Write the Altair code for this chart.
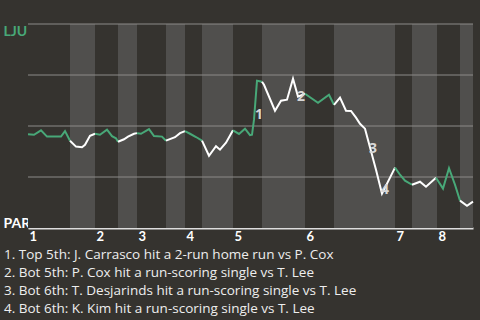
import altair as alt
import pandas as pd

# ---- data ----
teams = ["LJU", "PAR"]  # top = LJU, bottom = PAR
innings = [1, 2, 3, 4, 5, 6, 7, 8]
# game progress at each half-inning boundary (top1, bot1, top2, ...)
half_bounds = [0, 42, 67, 90, 109, 138, 157, 174, 205, 234, 277, 306, 367, 384, 409, 432, 445]

# win probability for LJU (%) per half-inning
seg_x = [
    [0, 6, 13, 19, 33, 37, 42],
    [48, 54, 57, 62, 67],
    [72, 79, 84, 88, 90],
    [96, 100, 106, 109],
    [113, 121, 126, 134, 138],
    [147, 152, 157],
    [162, 168, 174],
    [181, 188, 192, 198, 205],
    [211, 217, 222, 224, 226, 229, 234],
    [236, 247, 253, 259, 265, 270, 277],
    [290, 301, 306],
    [312, 318, 323, 328, 332, 337, 348, 354, 367],
    [372, 377, 384],
    [392, 398, 408],
    [415, 421, 427, 432],
    [439, 445],
]
seg_p = [
    [46.0, 45.7, 47.9, 44.8, 44.8, 47.5, 42.8],
    [39.9, 39.6, 40.8, 45.2, 46.2],
    [45.7, 48.2, 45.0, 44.0, 42.3],
    [43.5, 44.8, 46.2, 46.5],
    [46.2, 48.5, 45.1, 44.8, 42.8],
    [44.5, 46.5, 47.5],
    [46.2, 44.6, 42.8],
    [35.4, 40.1, 38.4, 41.8, 47.9],
    [46.1, 48.7, 45.5, 45.7, 53.1, 72.2, 71.7],
    [70.2, 57.5, 62.4, 62.9, 73.2, 64.4, 65.8],
    [61.4, 65.3, 60.4],
    [63.9, 57.5, 57.4, 54.1, 51.1, 48.7, 28.6, 16.8, 29.6],
    [26.1, 23.2, 21.2],
    [22.7, 20.2, 24.6],
    [19.3, 29.3, 21.2, 13.4],
    [10.9, 12.9],
]

event_labels = ["1", "2", "3", "4"]
event_x = [231, 273, 345, 357]
event_p = [55.5, 64.3, 38.9, 18.8]

notes = [
    "1. Top 5th: J. Carrasco hit a 2-run home run vs P. Cox",
    "2. Bot 5th: P. Cox hit a run-scoring single vs T. Lee",
    "3. Bot 6th: T. Desjarinds hit a run-scoring single vs T. Lee",
    "4. Bot 6th: K. Kim hit a run-scoring single vs T. Lee",
]
grid_vals = [25, 50, 75, 100]

# ---- build tables ----
rows = []
prev = None
for i, (xs, ps) in enumerate(zip(seg_x, seg_p)):
    half = "top" if i % 2 == 0 else "bot"
    pts = list(zip(xs, ps))
    if prev is not None:
        pts = [prev] + pts
    for j, (x, p) in enumerate(pts):
        rows.append({"x": x, "p": p, "seg": i, "order": j, "half": half})
    prev = pts[-1]
line_df = pd.DataFrame(rows)

bands_df = pd.DataFrame({
    "start": half_bounds[:-1],
    "end": half_bounds[1:],
    "half": ["top" if i % 2 == 0 else "bot" for i in range(len(half_bounds) - 1)],
})
ev_df = pd.DataFrame({"label": event_labels, "x": event_x, "p": event_p})
grid_df = pd.DataFrame({"v": grid_vals})

BG = "#35332f"
LIGHT = "#504f4d"
GREEN = "#48a878"
FONT = "Open Sans"
LABEL_FONT = "Lato"

top_starts = half_bounds[0:-1:2]
label_expr = "indexof([" + ",".join(str(v) for v in top_starts) + "], datum.value) + 1"

xscale = alt.Scale(domain=[half_bounds[0], half_bounds[-1]], nice=False, zero=False)
yscale = alt.Scale(domain=[0, 100], nice=False)

xaxis = alt.Axis(
    values=top_starts, labelExpr=label_expr, title=None, grid=False, ticks=False,
    labelAlign="left", labelFontWeight="bold", labelColor="#ffffff", labelFontSize=13,
    labelFont=LABEL_FONT, labelPadding=2, labelOffset=1, domainColor="#dddddd", domainWidth=2,
    labelOverlap=False, labelFlush=False,
)

bands = alt.Chart(bands_df).mark_rect().encode(
    x=alt.X("start:Q", scale=xscale, axis=xaxis),
    x2="end:Q",
    color=alt.Color("half:N", scale=alt.Scale(domain=["top", "bot"], range=[BG, LIGHT]), legend=None),
)

yaxis = alt.Axis(
    values=[0, 100], labelExpr="datum.value == 100 ? 'LJU' : 'PAR'", title=None, grid=False,
    ticks=False, labelAlign="left", labelPadding=25, labelFontSize=14, labelFontWeight="bold",
    labelFont=LABEL_FONT,
    labelColor=alt.condition("datum.value == 100", alt.value(GREEN), alt.value("#ffffff")),
    labelBaseline=alt.condition("datum.value == 100", alt.value("top"), alt.value("bottom")),
    labelOffset=alt.condition("datum.value == 100", alt.value(0), alt.value(2)),
    domainColor="#bbbbbb", domainWidth=1,
)

grid = alt.Chart(grid_df).mark_rule(color="#8c8b89", strokeWidth=1).encode(
    y=alt.Y("v:Q", scale=yscale, axis=yaxis),
)

line = alt.Chart(line_df).mark_line(strokeWidth=2, interpolate="linear").encode(
    x=alt.X("x:Q", scale=xscale),
    y=alt.Y("p:Q", scale=yscale),
    detail="seg:N",
    order="order:Q",
    color=alt.Color("half:N", scale=alt.Scale(domain=["top", "bot"], range=[GREEN, "#ffffff"]), legend=None),
)

ev = alt.Chart(ev_df).mark_text(fontSize=14, fontWeight="bold", color="#d8d8d8", font=FONT).encode(
    x=alt.X("x:Q", scale=xscale),
    y=alt.Y("p:Q", scale=yscale),
    text="label:N",
)

chart = alt.layer(bands, grid, line, ev).resolve_scale(color="independent").properties(
    width=445,
    height=204,
    background=BG,
    padding={"left": 28, "top": 24, "right": 7, "bottom": 92},
    autosize=alt.AutoSizeParams(type="none"),
    title=alt.TitleParams(
        text=notes, orient="bottom", anchor="start", align="left", fontSize=13.5,
        fontWeight="normal", font=FONT, color="#eeeeee", lineHeight=18, offset=5, dx=1,
    ),
).configure_view(stroke=None)

chart.save("out.html", embed_options={"renderer": "svg", "actions": False})
